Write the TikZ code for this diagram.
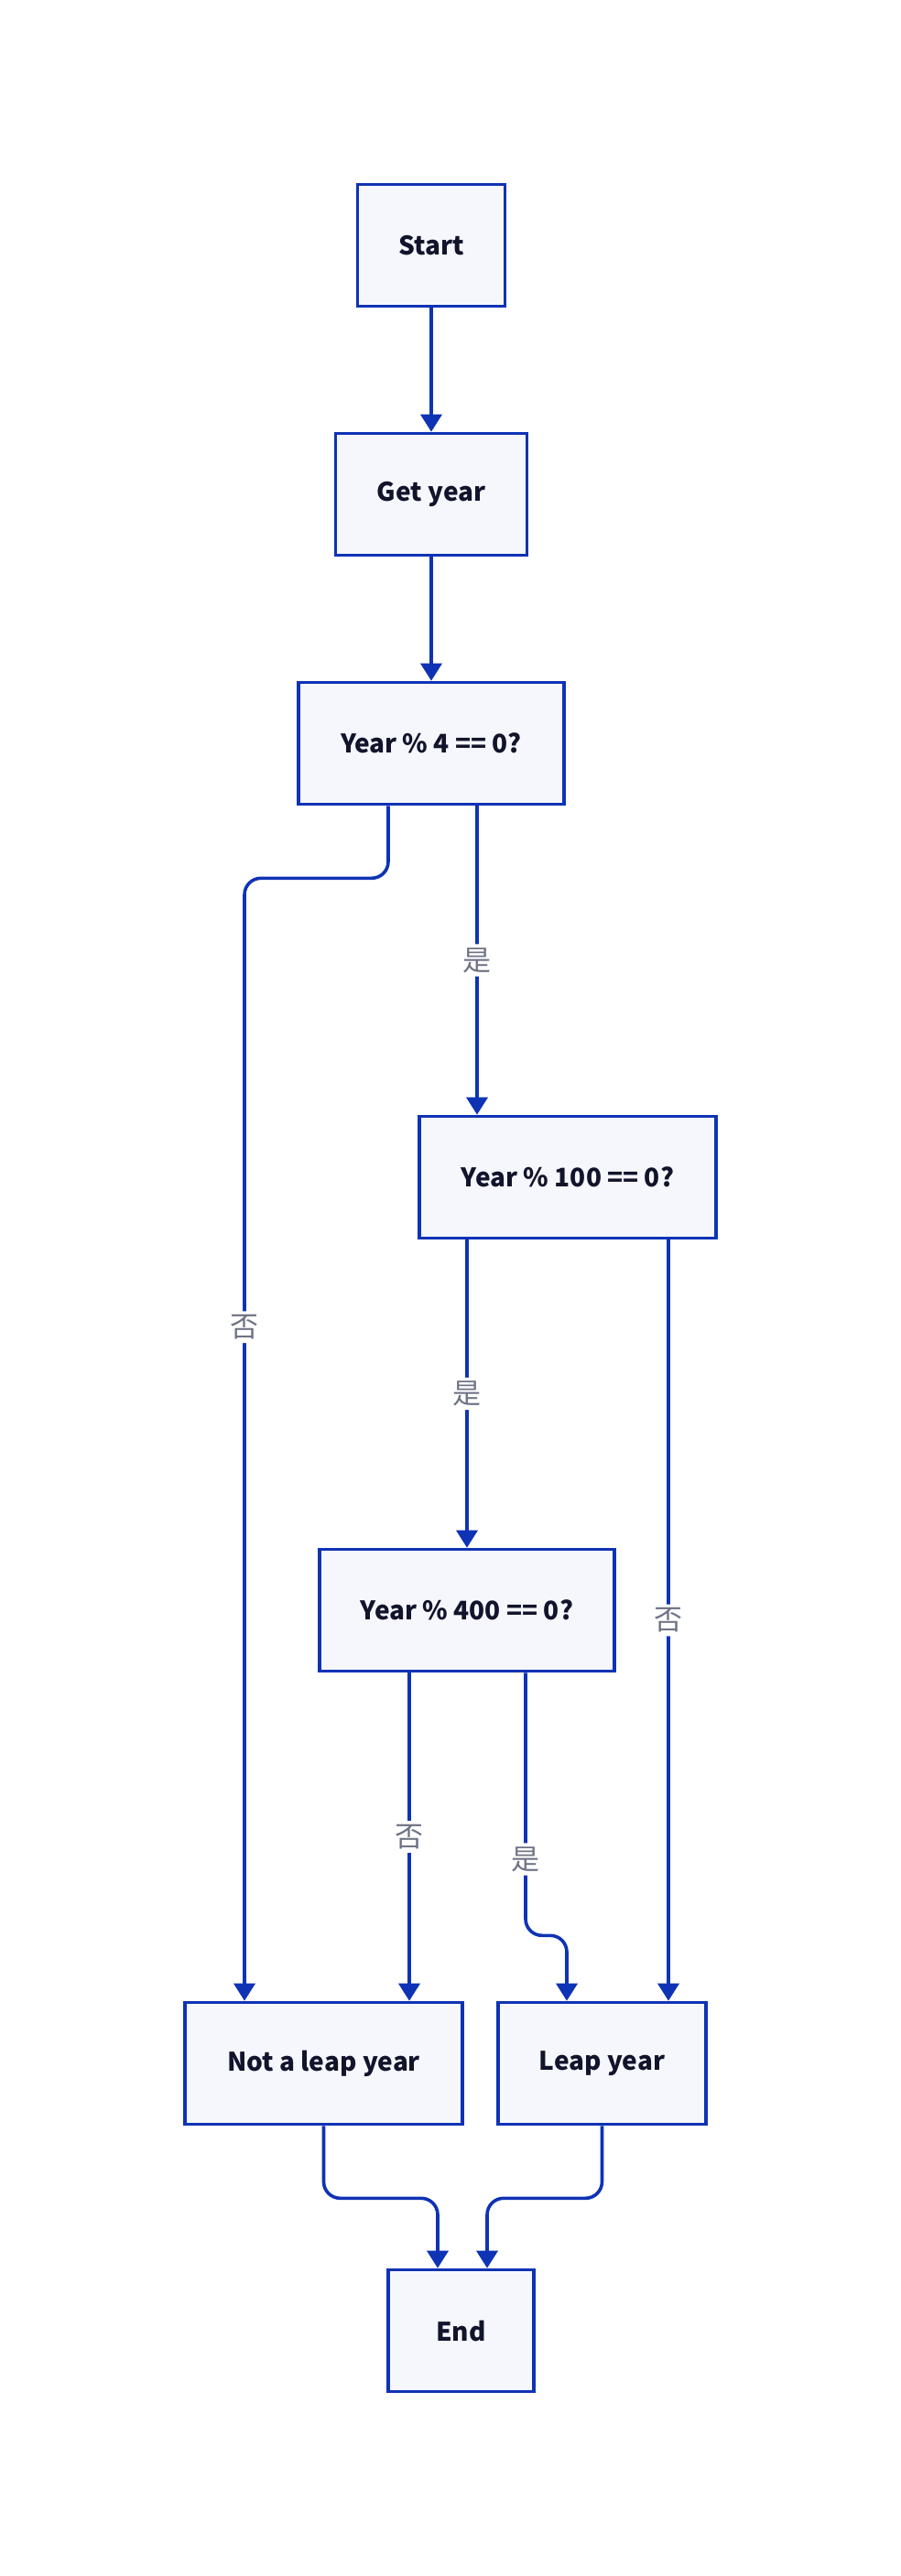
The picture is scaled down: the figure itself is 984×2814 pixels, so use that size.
\documentclass[tikz,border=0pt]{standalone}
\usepackage{fontspec}
\usepackage{xcolor}
\usepackage{tikz}
\usetikzlibrary{arrows.meta,positioning,calc}
\setmainfont{Noto Sans CJK SC}
\definecolor{lineblue}{HTML}{0F33B5}
\definecolor{boxfill}{HTML}{F5F7FC}
\definecolor{boxtext}{HTML}{11142B}
\definecolor{lblgray}{HTML}{6E7385}

\begin{document}
\begin{tikzpicture}[x=0.5pt, y=-0.5pt, >={Triangle[width=11.5pt,length=9.5pt]},
  box/.style={draw=lineblue, line width=1.8pt, fill=boxfill, text=boxtext,
    font=\fontsize{14pt}{17pt}\selectfont\bfseries, minimum height=66.5pt, inner sep=0pt},
  flow/.style={->, draw=lineblue, line width=1.8pt, rounded corners=9pt},
  lbl/.style={fill=white, text=lblgray, font=\fontsize{15.5pt}{18pt}\selectfont, inner sep=2pt}]
\useasboundingbox (-2,0) rectangle (982,2814);
% nodes
\node[box, minimum width=80.5pt] (start) at (469,268) {Start};
\node[box, minimum width=104.5pt] (get) at (469,540) {Get year};
\node[box, minimum width=145pt] (y4) at (469,812) {Year \% 4 == 0?};
\node[box, minimum width=162pt] (y100) at (618,1286) {Year \% 100 == 0?};
\node[box, minimum width=161pt] (y400) at (508,1759) {Year \% 400 == 0?};
\node[box, minimum width=151.5pt] (notleap) at (351.5,2254) {Not a leap year};
\node[box, minimum width=113.5pt] (leap) at (655.5,2254) {Leap year};
\node[box, minimum width=79.5pt] (end) at (501.5,2546) {End};
% connectors
\draw[flow] (start) -- (get);
\draw[flow] (get) -- (y4);
\draw[flow] ([shift={(-47,0)}]y4.south) -- ++(0,79) -| ([shift={(-86.5,0)}]notleap.north)
  node[lbl, pos=0.70] {否};
\draw[flow] ([shift={(50,0)}]y4.south) -- ([shift={(-99,0)}]y100.north)
  node[lbl, midway] {是};
\draw[flow] ([shift={(-110,0)}]y100.south) -- (y400.north)
  node[lbl, midway] {是};
\draw[flow] ([shift={(110,0)}]y100.south) -- ([shift={(72.5,0)}]leap.north)
  node[lbl, midway] {否};
\draw[flow] ([shift={(-63,0)}]y400.south) -- ([shift={(93.5,0)}]notleap.north)
  node[lbl, midway] {否};
\draw[flow] ([shift={(64,0)}]y400.south) -- ++(0,287) node[lbl, pos=0.71] {是}
  -| ([shift={(-38.5,0)}]leap.north);
\draw[flow] (notleap.south) -- ++(0,79) -| ([shift={(-25.5,0)}]end.north);
\draw[flow] (leap.south) -- ++(0,79) -| ([shift={(28.5,0)}]end.north);
\end{tikzpicture}
\end{document}
